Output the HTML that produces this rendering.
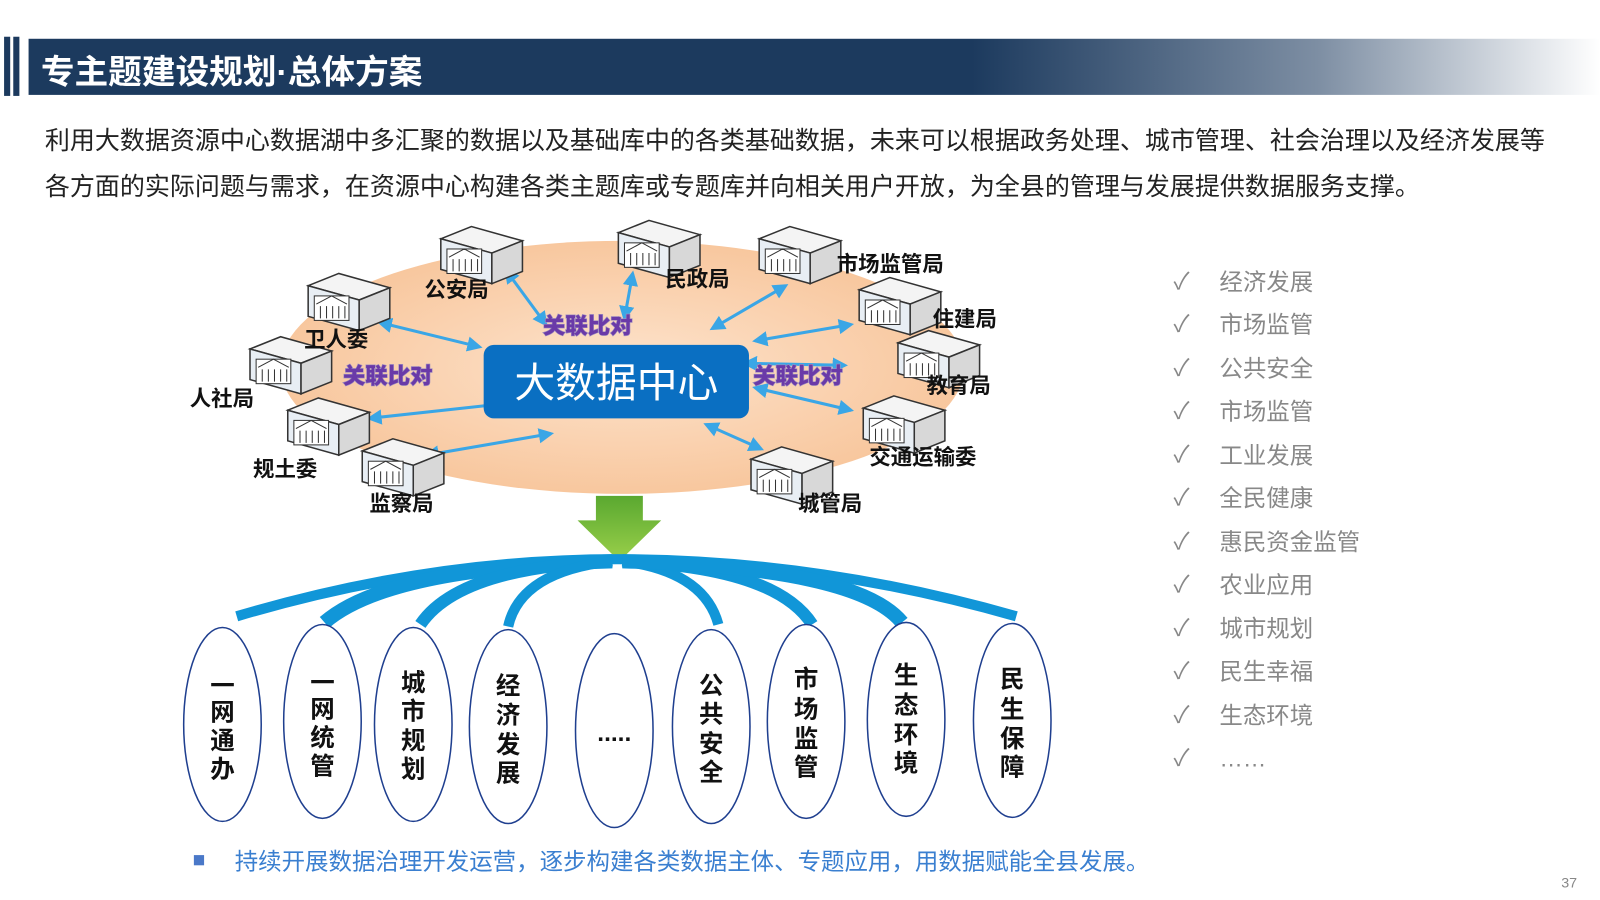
<!DOCTYPE html>
<html><head><meta charset="utf-8"><style>
body{margin:0;width:1600px;height:900px;background:#fff;position:relative;overflow:hidden;font-family:"Liberation Sans","Noto Sans CJK SC",sans-serif}
#w{position:absolute;left:0;top:0;width:1568px;height:882px;transform:scale(1.0204);transform-origin:0 0}
.t{position:absolute;white-space:nowrap}
</style></head><body><div id="w">
<div style="position:absolute;left:4px;top:36px;width:6px;height:58px;background:#1c3a5e"></div>
<div style="position:absolute;left:13px;top:36px;width:6px;height:58px;background:#1c3a5e"></div>
<div style="position:absolute;left:28px;top:38px;width:1540px;height:55px;background:linear-gradient(90deg,#1c3a5e 0%,#1c3a5e 60%,#7d8ea3 82%,#fff 100%)"></div>
<div class="t" style="left:40px;top:44px;font-size:33px;font-weight:bold;color:#fff">专主题建设规划·总体方案</div>
<div class="t" style="left:44px;top:119px;font-size:24.5px;color:#222;letter-spacing:0px">利用大数据资源中心数据湖中多汇聚的数据以及基础库中的各类基础数据，未来可以根据政务处理、城市管理、社会治理以及经济发展等</div>
<div class="t" style="left:44px;top:164px;font-size:24.5px;color:#222;letter-spacing:0px">各方面的实际问题与需求，在资源中心构建各类主题库或专题库并向相关用户开放，为全县的管理与发展提供数据服务支撑。</div>

<svg width="1568" height="882" style="position:absolute;left:0;top:0">
<defs>
<radialGradient id="pe" cx="50%" cy="50%" r="50%"><stop offset="0" stop-color="#fde3cc"/><stop offset="1" stop-color="#f8c79e"/></radialGradient>
<linearGradient id="gr" x1="0" y1="0" x2="0" y2="1"><stop offset="0" stop-color="#5aa830"/><stop offset="1" stop-color="#9ad04a"/></linearGradient>
<marker id="a" viewBox="0 0 10 10" refX="8" refY="5" markerWidth="5" markerHeight="5" orient="auto-start-reverse"><path d="M0,0L10,5L0,10z" fill="#3aa6e6"/></marker>
<g id="srv"><polygon points="0,12 30,0 80,14 50,26" fill="#f4f4f4" stroke="#333" stroke-width="1.5"/><polygon points="0,12 50,26 50,56 0,42" fill="#e8eef4" stroke="#333" stroke-width="1.5"/><polygon points="50,26 80,14 80,44 50,56" fill="#d8d8d8" stroke="#333" stroke-width="1.5"/><rect x="6" y="22" width="34" height="24" fill="#fff" stroke="#333"/><path d="M8,30 L23,22 L38,30 M12,32v12M18,32v12M24,32v12M30,32v12M36,32v12" stroke="#333" fill="none"/></g>
</defs>
<ellipse cx="610" cy="360" rx="335" ry="124" fill="url(#pe)"/>
<g stroke="#3aa6e6" stroke-width="3" marker-start="url(#a)" marker-end="url(#a)">
<line x1="496" y1="265" x2="535" y2="318"/>
<line x1="620" y1="268" x2="612" y2="312"/>
<line x1="770" y1="280" x2="698" y2="322"/>
<line x1="372" y1="316" x2="470" y2="340"/>
<line x1="834" y1="318" x2="740" y2="334"/>
<line x1="730" y1="356" x2="828" y2="358"/>
<line x1="545" y1="390" x2="362" y2="410"/>
<line x1="740" y1="380" x2="834" y2="402"/>
<line x1="540" y1="425" x2="418" y2="446"/>
<line x1="692" y1="416" x2="746" y2="440"/>
</g>
<use href="#srv" x="432" y="222"/><use href="#srv" x="606" y="216"/><use href="#srv" x="744" y="222"/>
<use href="#srv" x="302" y="268"/><use href="#srv" x="842" y="272"/><use href="#srv" x="245" y="330"/>
<use href="#srv" x="880" y="324"/><use href="#srv" x="282" y="390"/><use href="#srv" x="846" y="388"/>
<use href="#srv" x="355" y="430"/><use href="#srv" x="736" y="438"/>
<rect x="474" y="338" width="260" height="72" rx="10" fill="#0a6fc2"/>
<text x="604" y="389" font-size="40" fill="#fff" text-anchor="middle" font-family="Liberation Sans,Noto Sans CJK SC,sans-serif">大数据中心</text>
<g font-size="21" font-weight="bold" fill="#111" font-family="Liberation Sans,Noto Sans CJK SC,sans-serif">
<text x="416" y="291">公安局</text><text x="652" y="281">民政局</text><text x="820" y="266">市场监管局</text>
<text x="298" y="340">卫人委</text><text x="914" y="320">住建局</text><text x="186" y="398">人社局</text>
<text x="908" y="385">教育局</text><text x="248" y="467">规土委</text><text x="852" y="455">交通运输委</text>
<text x="362" y="501">监察局</text><text x="782" y="501">城管局</text>
</g>
<g font-size="22" font-weight="900" fill="#6a3aa8" font-family="Noto Sans CJK SC,sans-serif" style="paint-order:stroke" stroke="#a090c0" stroke-width="1.2">
<text x="532" y="327">关联比对</text><text x="336" y="376">关联比对</text><text x="738" y="376">关联比对</text>
</g>
<path d="M584,486 h46 v24 h18 l-41,40 l-41,-40 h18z" fill="url(#gr)"/>
<g fill="none" stroke="#1196d8" stroke-linecap="butt">
<path d="M232,604 Q420,548 605,548 Q800,548 996,604" stroke-width="10"/>
<path d="M318,610 Q380,556 600,550" stroke-width="14"/>
<path d="M412,612 Q450,556 600,550" stroke-width="12"/>
<path d="M498,614 Q510,560 600,550" stroke-width="10"/>
<path d="M704,612 Q690,560 610,550" stroke-width="10"/>
<path d="M796,612 Q760,556 610,550" stroke-width="12"/>
<path d="M884,610 Q840,556 610,550" stroke-width="14"/>
</g>
<g fill="#fff" stroke="#1f3f8f" stroke-width="1.5">
<ellipse cx="218" cy="710" rx="38" ry="95"/><ellipse cx="316" cy="707" rx="38" ry="95"/>
<ellipse cx="405" cy="710" rx="38" ry="95"/><ellipse cx="498" cy="712" rx="38" ry="95"/>
<ellipse cx="602" cy="716" rx="38" ry="95"/><ellipse cx="697" cy="712" rx="38" ry="95"/>
<ellipse cx="790" cy="707" rx="38" ry="95"/><ellipse cx="888" cy="705" rx="38" ry="95"/>
<ellipse cx="992" cy="706" rx="38" ry="95"/>
</g>
<g font-size="24" font-weight="bold" fill="#111" text-anchor="middle" font-family="Liberation Sans,Noto Sans CJK SC,sans-serif">
<text x="218" y="680">一</text><text x="218" y="706">网</text><text x="218" y="734">通</text><text x="218" y="762">办</text>
<text x="316" y="677">一</text><text x="316" y="703">网</text><text x="316" y="731">统</text><text x="316" y="759">管</text>
<text x="405" y="677">城</text><text x="405" y="705">市</text><text x="405" y="734">规</text><text x="405" y="762">划</text>
<text x="498" y="680">经</text><text x="498" y="709">济</text><text x="498" y="738">发</text><text x="498" y="766">展</text>
<text x="602" y="726">.....</text>
<text x="697" y="680">公</text><text x="697" y="708">共</text><text x="697" y="737">安</text><text x="697" y="765">全</text>
<text x="790" y="674">市</text><text x="790" y="703">场</text><text x="790" y="732">监</text><text x="790" y="760">管</text>
<text x="888" y="670">生</text><text x="888" y="699">态</text><text x="888" y="728">环</text><text x="888" y="756">境</text>
<text x="992" y="674">民</text><text x="992" y="703">生</text><text x="992" y="732">保</text><text x="992" y="760">障</text>
</g>
<g font-size="23" fill="#888" font-family="Liberation Sans,Noto Sans CJK SC,sans-serif">
<text x="1150" y="283">✓</text><text x="1195" y="284">经济发展</text>
<text x="1150" y="325">✓</text><text x="1195" y="326">市场监管</text>
<text x="1150" y="368">✓</text><text x="1195" y="369">公共安全</text>
<text x="1150" y="410">✓</text><text x="1195" y="411">市场监管</text>
<text x="1150" y="453">✓</text><text x="1195" y="454">工业发展</text>
<text x="1150" y="495">✓</text><text x="1195" y="496">全民健康</text>
<text x="1150" y="538">✓</text><text x="1195" y="539">惠民资金监管</text>
<text x="1150" y="580">✓</text><text x="1195" y="581">农业应用</text>
<text x="1150" y="623">✓</text><text x="1195" y="624">城市规划</text>
<text x="1150" y="665">✓</text><text x="1195" y="666">民生幸福</text>
<text x="1150" y="708">✓</text><text x="1195" y="709">生态环境</text>
<text x="1150" y="750">✓</text><text x="1195" y="751">……</text>
</g>
<rect x="190" y="838" width="10" height="10" fill="#4a78c8"/>
<text x="230" y="852" font-size="23" fill="#3a7fd0" font-family="Liberation Sans,Noto Sans CJK SC,sans-serif">持续开展数据治理开发运营，逐步构建各类数据主体、专题应用，用数据赋能全县发展。</text>
<text x="1530" y="870" font-size="14" fill="#888">37</text>
</svg>
</div></body></html>
